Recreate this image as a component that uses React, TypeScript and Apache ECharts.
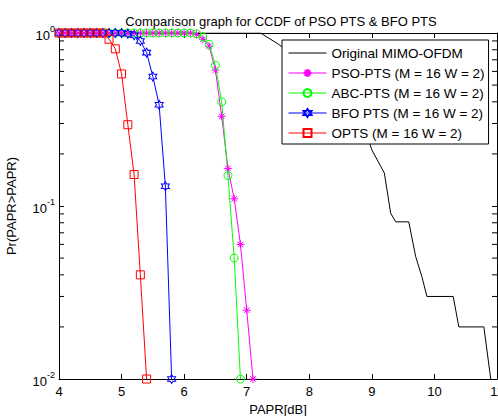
import React, { useEffect, useRef } from "react";
import * as echarts from "echarts";

const TITLE = "Comparison graph for CCDF of PSO PTS & BFO PTS";
const X_NAME = "PAPR[dB]";
const Y_NAME = "Pr(PAPR>PAPR)";
const X_MIN = 4;
const X_MAX = 11;
const X_INTERVAL = 1;
const Y_MIN = 0.01;
const Y_MAX = 1;
const Y_MINOR = [0.02, 0.03, 0.04, 0.05, 0.06, 0.07, 0.08, 0.09, 0.2, 0.3, 0.4, 0.5, 0.6, 0.7, 0.8, 0.9];

const PAPR_GRID = [
  4.0, 4.1, 4.2, 4.3, 4.4, 4.5, 4.6, 4.7, 4.8, 4.9, 5.0, 5.1, 5.2, 5.3, 5.4, 5.5,
  5.6, 5.7, 5.8, 5.9, 6.0, 6.1, 6.2, 6.3, 6.4, 6.5, 6.6, 6.7, 6.8, 6.9, 7.0, 7.1,
];

const ORIG_X = [4, 7.22, 7.5, 7.9, 8.3, 8.7, 8.94, 9.0, 9.2, 9.3, 9.38, 9.59, 9.7, 9.8, 9.88, 10.3, 10.39, 10.79, 10.9];
const ORIG_Y = [1, 1, 0.865, 0.68, 0.5, 0.35, 0.245, 0.211, 0.155, 0.091, 0.081, 0.081, 0.051, 0.039, 0.03, 0.03, 0.02, 0.02, 0.01];

const PSO = [
  1, 1, 1, 1, 1, 1, 1, 1, 1, 1, 1, 1, 1, 1, 1, 1, 1, 1, 1, 1, 1, 1,
  0.98, 0.92, 0.84, 0.61, 0.33, 0.165, 0.11, 0.06, 0.025, 0.01,
];
const ABC = [
  1, 1, 1, 1, 1, 1, 1, 1, 1, 1, 1, 1, 1, 1, 1, 1, 1, 1, 1, 1, 1, 1,
  0.99, 0.95, 0.86, 0.65, 0.4, 0.15, 0.05, 0.01,
];
const BFO = [1, 1, 1, 1, 1, 1, 1, 1, 1, 1, 1, 0.99, 0.97, 0.9, 0.77, 0.56, 0.385, 0.13, 0.01];
const OPTS = [1, 1, 1, 1, 1, 1, 1, 1, 0.92, 0.81, 0.58, 0.295, 0.152, 0.04, 0.01];

const NAMES = [
  "Original MIMO-OFDM",
  "PSO-PTS (M = 16 W = 2)",
  "ABC-PTS (M = 16 W = 2)",
  "BFO PTS (M = 16 W = 2)",
  "OPTS (M = 16 W = 2)",
];

const FONT = "'Liberation Sans', Arial, Helvetica, sans-serif";
const ASTERISK = "path://M0,-1L0,1M-1,0L1,0M-0.7,-0.7L0.7,0.7M-0.7,0.7L0.7,-0.7";
const HEXAGRAM =
  "path://M0,-1L0.2887,-0.5L0.866,-0.5L0.577,0L0.866,0.5L0.2887,0.5L0,1L-0.2887,0.5L-0.866,0.5L-0.577,0L-0.866,-0.5L-0.2887,-0.5Z";

function pairs(xs: number[], ys: number[]) {
  return ys.map((y, i) => [xs[i], y]);
}

function markerSeries(name: string, vals: number[], color: string, symbol: string, size: number | number[]) {
  return {
    name,
    type: "line",
    data: pairs(PAPR_GRID, vals),
    symbol,
    symbolSize: size,
    showSymbol: true,
    lineStyle: { color, width: 1 },
    itemStyle: { color: "rgba(0,0,0,0)", borderColor: color, borderWidth: 1 },
    silent: true,
  };
}

export default function App() {
  const ref = useRef<HTMLDivElement>(null);
  useEffect(() => {
    document.body.style.margin = "0";
    const chart = echarts.init(ref.current!, null, { renderer: "svg" });
    const ticksCommon = {
      axisLine: { show: true, lineStyle: { color: "#000", width: 1 } },
      axisTick: { show: true, inside: true, length: 5, lineStyle: { color: "#000" } },
      splitLine: { show: false },
    };
    const option: any = {
      animation: false,
      backgroundColor: "#fff",
      textStyle: { fontFamily: FONT },
      title: {
        text: TITLE,
        left: 276,
        textAlign: "center",
        top: 10,
        textStyle: { fontFamily: FONT, fontSize: 13, fontWeight: "normal", color: "#000" },
      },
      grid: { left: 59, right: 1, top: 33, bottom: 37, containLabel: false, outerBoundsMode: "none" },
      legend: {
        data: [
          { name: NAMES[0], itemStyle: { color: "rgba(0,0,0,0)", borderWidth: 0, opacity: 0 } },
          NAMES[1],
          NAMES[2],
          NAMES[3],
          NAMES[4],
        ],
        orient: "vertical",
        left: 282,
        top: 40,
        itemWidth: 38,
        itemHeight: 10,
        itemGap: 6,
        padding: [6, 4, 4, 6],
        backgroundColor: "#fff",
        borderColor: "#000",
        borderWidth: 1,
        borderRadius: 0,
        selectedMode: false,
        lineStyle: { width: 1 },
        textStyle: { fontFamily: FONT, fontSize: 13.5, color: "#000", width: 157 },
      },
      xAxis: [
        {
          type: "value",
          min: X_MIN,
          max: X_MAX,
          interval: X_INTERVAL,
          name: X_NAME,
          nameLocation: "middle",
          nameGap: 22,
          nameTextStyle: { fontFamily: FONT, fontSize: 13, color: "#000" },
          axisLabel: { fontFamily: FONT, fontSize: 13, color: "#000", margin: 6, alignMaxLabel: "center", alignMinLabel: "center" },
          ...ticksCommon,
        },
        {
          type: "value",
          position: "top",
          min: X_MIN,
          max: X_MAX,
          interval: X_INTERVAL,
          axisLabel: { show: false },
          ...ticksCommon,
        },
      ],
      yAxis: [
        {
          type: "log",
          logBase: 10,
          min: Y_MIN,
          max: Y_MAX,
          name: Y_NAME,
          nameLocation: "middle",
          nameGap: 41,
          nameTextStyle: { fontFamily: FONT, fontSize: 13, color: "#000" },
          axisLabel: {
            margin: 4,
            formatter: (v: number) => `{b|10}{s|${Math.round(Math.log10(v))}}`,
            rich: {
              b: { fontFamily: FONT, fontSize: 13, color: "#000", lineHeight: 18, verticalAlign: "bottom" },
              s: { fontFamily: FONT, fontSize: 9, color: "#000", lineHeight: 10, verticalAlign: "top" },
            },
          },
          ...ticksCommon,
        },
        {
          type: "log",
          logBase: 10,
          min: Y_MIN,
          max: Y_MAX,
          position: "right",
          axisLabel: { show: false },
          ...ticksCommon,
        },
      ],
      series: [
        {
          name: NAMES[0],
          type: "line",
          data: pairs(ORIG_X, ORIG_Y),
          symbol: "none",
          showSymbol: false,
          lineStyle: { color: "#000", width: 1 },
          itemStyle: { color: "#000" },
          silent: true,
        },
        markerSeries(NAMES[1], PSO, "#ff00ff", ASTERISK, 8),
        markerSeries(NAMES[2], ABC, "#00ff00", "circle", 8),
        markerSeries(NAMES[3], BFO, "#0000ff", HEXAGRAM, [8, 9]),
        markerSeries(NAMES[4], OPTS, "#ff0000", "rect", 8),
        {
          name: "minorTicks",
          type: "custom",
          silent: true,
          clip: false,
          data: Y_MINOR.map((v) => [X_MIN, v]),
          renderItem: (params: any, api: any) => {
            const v = api.value(1);
            const a = api.coord([X_MIN, v]);
            const b = api.coord([X_MAX, v]);
            return {
              type: "group",
              children: [
                { type: "line", shape: { x1: a[0], y1: a[1], x2: a[0] + 5, y2: a[1] }, style: { stroke: "#000", lineWidth: 1 } },
                { type: "line", shape: { x1: b[0] - 5, y1: b[1], x2: b[0], y2: b[1] }, style: { stroke: "#000", lineWidth: 1 } },
              ],
            };
          },
        },
      ],
    };
    chart.setOption(option);
    return () => chart.dispose();
  }, []);
  return <div ref={ref} style={{ width: 498, height: 416 }} />;
}
